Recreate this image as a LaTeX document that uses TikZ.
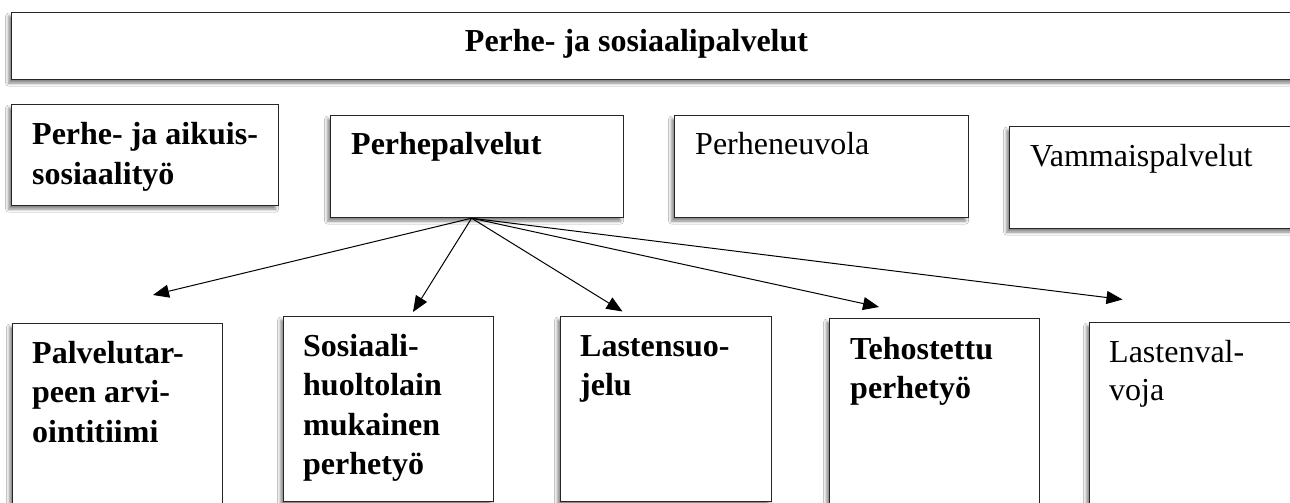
\documentclass[tikz,border=0pt]{standalone}
\usepackage{fontspec}
\setmainfont{Liberation Serif}
\usetikzlibrary{arrows.meta,shadows.blur}
\tikzset{
  box/.style={draw=black!85, line width=1.2pt, fill=white, inner sep=0pt, anchor=north west,
    blur shadow={shadow xshift=-3pt, shadow yshift=-3.5pt, shadow blur radius=3pt, shadow opacity=50}},
  bold/.style={anchor=base west, inner sep=0pt, font=\fontsize{32}{39.5}\selectfont\bfseries},
  plain/.style={anchor=base west, inner sep=0pt, font=\fontsize{32}{38}\selectfont},
  arr/.style={line width=1pt, -{Triangle[length=16pt, width=13pt]}},
}
\begin{document}
\begin{tikzpicture}[x=1pt, y=-1pt]
\clip (0,0) rectangle (1290,503);
\fill[white] (0,0) rectangle (1290,503);
% top row boxes
\node[box, minimum width=1289pt, minimum height=67pt] (top) at (11,12) {};
\node[box, minimum width=267pt, minimum height=101pt] (aikuis) at (11,104) {};
\node[box, minimum width=293pt, minimum height=102pt] (perhe) at (330,115) {};
\node[box, minimum width=294pt, minimum height=102pt] (neuvola) at (674,115) {};
\node[box, minimum width=291pt, minimum height=102pt] (vammais) at (1009,126) {};
% bottom row boxes
\node[box, minimum width=210pt, minimum height=200pt] (palv) at (12,323) {};
\node[box, minimum width=210pt, minimum height=185pt] (sos) at (283,316) {};
\node[box, minimum width=211pt, minimum height=185pt] (lasten) at (560,316) {};
\node[box, minimum width=210pt, minimum height=200pt] (teho) at (829,318) {};
\node[box, minimum width=211pt, minimum height=200pt] (valvoja) at (1089,322) {};
% texts
\node[bold, anchor=base] (topt) at (636.5,52) {Perhe- ja sosiaalipalvelut};
\node[bold, font=\fontsize{32}{40}\selectfont\bfseries] (aikuist) at (32,144) {\parbox[t]{240pt}{Perhe- ja aikuis-\\sosiaalityö}};
\node[bold] (perhet) at (351,154) {Perhepalvelut};
\node[plain] (neuvolat) at (695,154) {Perheneuvola};
\node[plain] (vammaist) at (1030,166) {Vammaispalvelut};
\node[bold] (palvt) at (32,363) {\parbox[t]{190pt}{Palvelutar-\\peen arvi-\\ointitiimi}};
\node[bold] (sost) at (303,356) {\parbox[t]{190pt}{Sosiaali-\\huoltolain\\mukainen\\perhetyö}};
\node[bold] (lastent) at (580,356) {\parbox[t]{190pt}{Lastensuo-\\jelu}};
\node[bold] (tehot) at (850,359) {\parbox[t]{190pt}{Tehostettu\\perhetyö}};
\node[plain] (valvojat) at (1109,362) {\parbox[t]{170pt}{Lastenval-\\voja}};
% arrow tips
\coordinate (t1) at (153,295);
\coordinate (t2) at (413,312);
\coordinate (t3) at (622.5,311.5);
\coordinate (t4) at (879,307);
\coordinate (t5) at (1122.5,299.5);
\draw[arr] ([xshift=-5.5pt]perhe.south) -- (t1);
\draw[arr] ([xshift=-5.5pt]perhe.south) -- (t2);
\draw[arr] ([xshift=-5.5pt]perhe.south) -- (t3);
\draw[arr] ([xshift=-5.5pt]perhe.south) -- (t4);
\draw[arr] ([xshift=-5.5pt]perhe.south) -- (t5);
\end{tikzpicture}
\end{document}
